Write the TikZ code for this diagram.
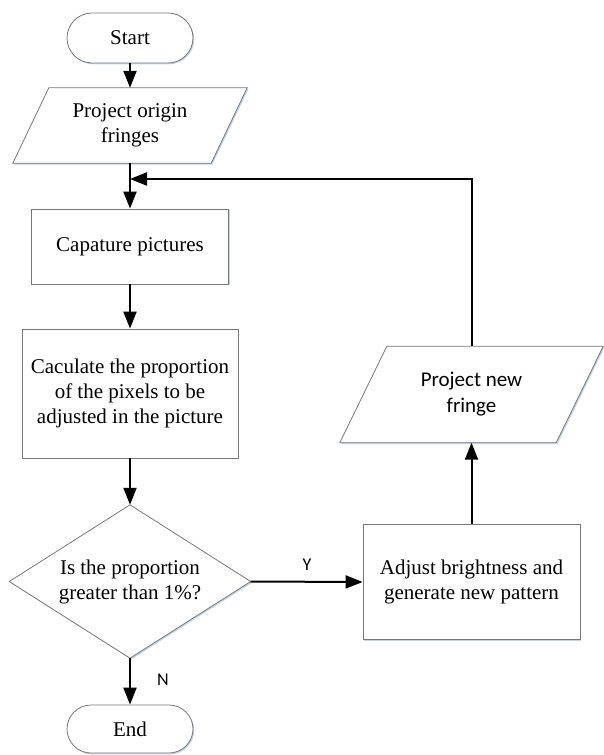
\documentclass[tikz,border=0pt]{standalone}
\usepackage{fontspec}
\setmainfont{Liberation Serif}
\newfontfamily\calibrifont{Carlito}
\usetikzlibrary{arrows.meta,calc,shapes.misc,shadows,backgrounds}
\definecolor{boxgray}{RGB}{120,120,120}
\definecolor{shadowc}{RGB}{196,212,232}
\begin{document}
\begin{tikzpicture}[x=1pt,y=-1pt,
  txt/.style={font=\fontsize{21}{25}\selectfont, align=center, inner sep=0pt, text=black},
  shp/.style={draw=boxgray, line width=0.8pt, fill=white,
    drop shadow={shadow xshift=1.3pt, shadow yshift=-1.3pt, fill=shadowc, opacity=1}},
  box/.style={txt, shp, rectangle},
  term/.style={txt, shp, rounded rectangle},
  ghost/.style={txt, rectangle, draw=none},
  outl/.style={draw=boxgray, line width=0.8pt, fill=white},
  shd/.style={fill=shadowc, draw=none, transform canvas={xshift=1.3pt, yshift=-1.3pt}},
  arr/.style={draw=black, line width=2pt, -{Triangle[length=17pt,width=13pt]}},
  lab/.style={font=\calibrifont\fontsize{18}{20}\selectfont, inner sep=0pt, text=black}]
\useasboundingbox (0,0) rectangle (604,755);

\node[term, minimum width=126, minimum height=50] (start) at (130,38) {Start};
\node[ghost, minimum width=234, minimum height=75] (po) at (130,125.5) {Project origin\\fringes};
\node[box, minimum width=197, minimum height=75] (cap) at (130,246.5) {Capature pictures};
\node[box, minimum width=216, minimum height=129] (calc) at (130,393.5) {Caculate the proportion\\of the pixels to be\\adjusted in the picture};
\node[ghost, minimum width=241, minimum height=153] (dec) at (130,581.5) {Is the proportion\\greater than 1\%?};
\node[term, minimum width=126, minimum height=48] (end) at (130,729) {End};
\node[box, minimum width=217, minimum height=115] (adj) at (471.5,582) {Adjust brightness and\\generate new pattern};
\node[ghost, font=\calibrifont\fontsize{21}{26}\selectfont, minimum width=263, minimum height=96] (pn) at (471.5,394.5) {Project new\\fringe};
\coordinate (join) at (130,179);

\begin{scope}[on background layer]
  \path[shd] ($(po.north west)+(36,0)$) -- (po.north east) -- ($(po.south east)+(-36,0)$) -- (po.south west) -- cycle;
  \path[outl] ($(po.north west)+(36,0)$) -- (po.north east) -- ($(po.south east)+(-36,0)$) -- (po.south west) -- cycle;
  \path[shd] ($(pn.north west)+(47,0)$) -- (pn.north east) -- ($(pn.south east)+(-47,0)$) -- (pn.south west) -- cycle;
  \path[outl] ($(pn.north west)+(47,0)$) -- (pn.north east) -- ($(pn.south east)+(-47,0)$) -- (pn.south west) -- cycle;
  \path[shd] (dec.north) -- (dec.east) -- (dec.south) -- (dec.west) -- cycle;
  \path[outl] (dec.north) -- (dec.east) -- (dec.south) -- (dec.west) -- cycle;
\end{scope}

\draw[arr] (start.south) -- (po.north);
\draw[arr] (po.south) -- (cap.north);
\draw[arr] (cap.south) -- (calc.north);
\draw[arr] (calc.south) -- (dec.north);
\draw[arr] (dec.south) -- (end.north);
\draw[arr] (dec.east) -- (adj.west);
\draw[arr] (adj.north) -- (pn.south);
\draw[arr] (pn.north) |- (join);

\node[lab] (ylab) at (307,565) {Y};
\node[lab] (nlab) at (163,680) {N};
\end{tikzpicture}
\end{document}
